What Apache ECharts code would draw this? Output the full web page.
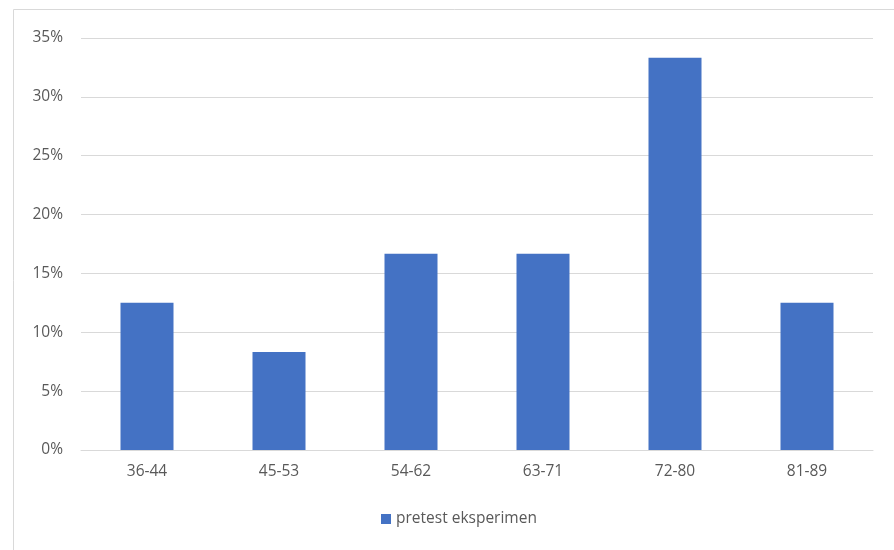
<!DOCTYPE html>
<html>
<head>
<meta charset="utf-8">
<script src="https://cdn.jsdelivr.net/npm/echarts@6/dist/echarts.min.js"></script>
<style>
  html, body { margin: 0; padding: 0; background: #fff; }
  #chart { width: 894px; height: 550px; }
</style>
</head>
<body>
<div id="chart"></div>
<script>
// Score ranges (class intervals)
const categories = ['36-44', '45-53', '54-62', '63-71', '72-80', '81-89'];
// Share of students per interval, in percent
const pretestValues = [12.5, 8.33, 16.67, 16.67, 33.33, 12.5];
const seriesName = 'pretest eksperimen';

const chart = echarts.init(document.getElementById('chart'));
const textColor = '#595959';
const fontFamily = 'Open Sans, Liberation Sans, sans-serif';
const fontSize = 15.5;

chart.setOption({
  animation: false,
  graphic: [{
    type: 'rect',
    shape: { x: 13.5, y: 9.5, width: 900, height: 560 },
    style: { fill: 'none', stroke: '#d9d9d9', lineWidth: 1 },
    z: -1
  }],
  grid: { left: 81, right: 21, top: 38, bottom: 100 },
  legend: {
    bottom: 18,
    left: 376,
    itemWidth: 10,
    itemHeight: 10,
    itemGap: 6,
    icon: 'rect',
    textStyle: { color: textColor, fontSize: fontSize, fontFamily: fontFamily },
    data: [seriesName]
  },
  xAxis: {
    type: 'category',
    data: categories,
    axisLine: { lineStyle: { color: '#d9d9d9', width: 1 } },
    axisTick: { show: false },
    axisLabel: { color: textColor, fontSize: fontSize, fontFamily: fontFamily, margin: 14 }
  },
  yAxis: {
    type: 'value',
    min: 0,
    max: 35,
    interval: 5,
    axisLine: { show: false },
    axisTick: { show: false },
    splitLine: { lineStyle: { color: '#d9d9d9', width: 1 } },
    axisLabel: {
      color: textColor, fontSize: fontSize, fontFamily: fontFamily, margin: 18,
      formatter: v => v + '%'
    }
  },
  series: [{
    name: seriesName,
    type: 'bar',
    data: pretestValues,
    barWidth: 53,
    itemStyle: { color: '#4472c4' }
  }]
});
</script>
</body>
</html>
